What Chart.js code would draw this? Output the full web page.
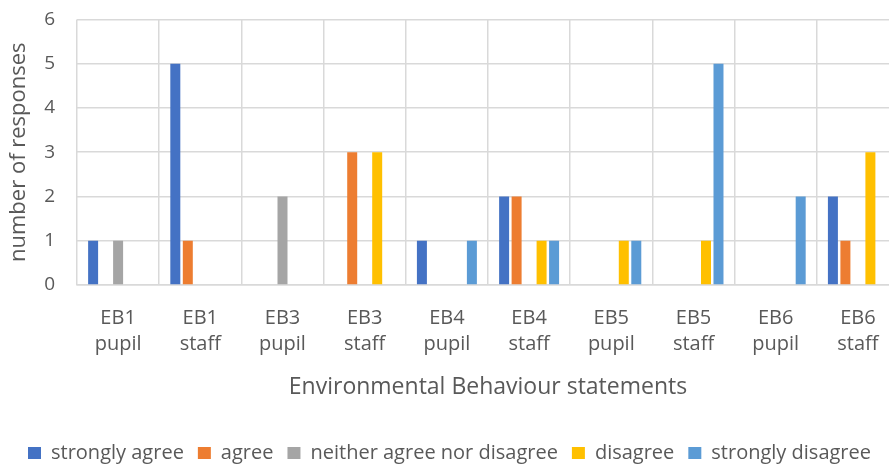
<!DOCTYPE html>
<html>
<head>
<meta charset="utf-8">
<script src="https://cdn.jsdelivr.net/npm/chart.js@4/dist/chart.umd.min.js"></script>
<style>
  html, body { margin: 0; padding: 0; background: #ffffff; overflow: hidden; }
  #wrap { position: relative; width: 910px; height: 481px; margin-top: -14px; }
</style>
</head>
<body>
<div id="wrap"><canvas id="chart"></canvas></div>
<script>
// Statements and respondent groups on the category axis
const statements = ["EB1", "EB1", "EB3", "EB3", "EB4", "EB4", "EB5", "EB5", "EB6", "EB6"];
const groups = ["pupil", "staff", "pupil", "staff", "pupil", "staff", "pupil", "staff", "pupil", "staff"];

// Number of responses per answer option
const stronglyAgree    = [1, 5, 0, 0, 1, 2, 0, 0, 0, 2];
const agree            = [0, 1, 0, 3, 0, 2, 0, 0, 0, 1];
const neither          = [1, 0, 2, 0, 0, 0, 0, 0, 0, 0];
const disagree         = [0, 0, 0, 3, 0, 1, 1, 1, 0, 3];
const stronglyDisagree = [0, 0, 0, 0, 1, 1, 1, 5, 2, 0];

const yTicks = [0, 1, 2, 3, 4, 5, 6];

const labels = statements.map((s, i) => [s, groups[i]]);
const FONT = "'Open Sans', sans-serif";
const TEXT = "#595959";
const GRID = "#d9d9d9";

const mk = (label, data, color) => ({
  label, data, backgroundColor: color, borderWidth: 0,
  categoryPercentage: 0.76, barPercentage: 0.8
});

new Chart(document.getElementById("chart"), {
  type: "bar",
  data: {
    labels,
    datasets: [
      mk("strongly agree", stronglyAgree, "#4472C4"),
      mk("agree", agree, "#ED7D31"),
      mk("neither agree nor disagree", neither, "#A5A5A5"),
      mk("disagree", disagree, "#FFC000"),
      mk("strongly disagree", stronglyDisagree, "#5B9BD5")
    ]
  },
  options: {
    responsive: true,
    maintainAspectRatio: false,
    animation: false,
    layout: { padding: { top: 3, right: 11, bottom: -6, left: 0 } },
    plugins: {
      tooltip: { enabled: false },
      legend: {
        position: "bottom",
        labels: {
          font: { family: FONT, size: 20 },
          color: TEXT,
          boxWidth: 13,
          boxHeight: 12,
          padding: 14
        }
      }
    },
    scales: {
      x: {
        offset: true,
        grid: { color: GRID, lineWidth: 1.5, offset: true, drawTicks: false },
        border: { color: GRID, width: 1.5 },
        ticks: { font: { family: FONT, size: 20, lineHeight: 1.3 }, color: TEXT, padding: 20, maxRotation: 0 },
        title: { display: true, text: "Environmental Behaviour statements",
                 font: { family: FONT, size: 23 }, color: TEXT, padding: { top: 2, bottom: 28 } },
        afterFit: (s) => { s.height = 144; }
      },
      y: {
        min: 0, max: 6,
        afterBuildTicks: (s) => { s.ticks = yTicks.map(v => ({ value: v })); },
        grid: { color: GRID, lineWidth: 1.5, drawTicks: false },
        border: { display: false },
        ticks: { font: { family: FONT, size: 19 }, color: TEXT, padding: 22 },
        title: { display: true, text: "number of responses",
                 font: { family: FONT, size: 22 }, color: TEXT, padding: { top: 6, bottom: 0 } },
        afterFit: (s) => { s.width = 77; }
      }
    }
  }
});
</script>
</body>
</html>
